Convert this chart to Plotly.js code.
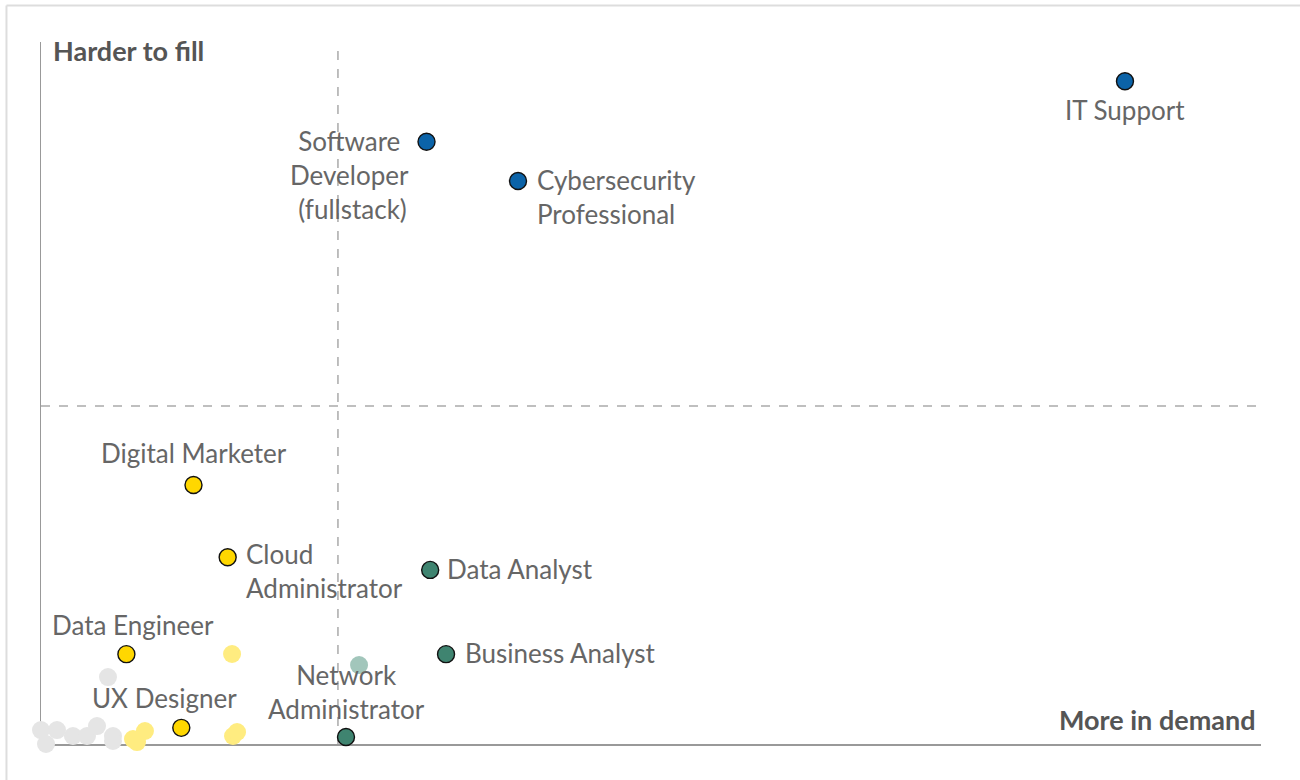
<!DOCTYPE html>
<html>
<head>
<meta charset="utf-8">
<script src="https://cdn.plot.ly/plotly-3.0.1.min.js"></script>
<style>
  body { margin: 0; background: #fff; }
  #plotArea { width: 1300px; height: 780px; }
</style>
</head>
<body>
<div id="plotArea"></div>
<script>
// demand (x) vs difficulty to fill (y), arbitrary 0-100 scale
var blueRoles = ["IT Support", "Software Developer", "Cybersecurity Professional"];
var blueX = [88.85, 31.6, 39.1];
var blueY = [94.4, 85.8, 80.2];

var yellowRoles = ["Digital Marketer", "Cloud Administrator", "Data Engineer", "UX Designer"];
var yellowX = [12.5, 15.3, 7.0, 11.5];
var yellowY = [36.9, 26.6, 12.8, 2.3];

var greenRoles = ["Data Analyst", "Business Analyst", "Network Administrator"];
var greenX = [31.9, 33.2, 25.0];
var greenY = [24.8, 12.8, 1.0];

// unlabeled roles
var greyX = [0, 1.31, 0.41, 2.62, 2.62, 3.69, 3.77, 4.59, 5.9, 5.9, 5.49];
var greyY = [1.99, 1.99, 0, 1.14, -0.14, -0.71, 1.14, 2.56, 1.14, 0.43, 9.54];

var paleYellowX = [7.54, 8.52, 7.87, 11.64, 15.74, 16.07, 15.66];
var paleYellowY = [0.71, 1.85, 0.28, -0.14, 1.14, 1.71, 12.82];

var paleGreenX = [26.07];
var paleGreenY = [11.25];

var midX = 24.34;
var midY = 48.15;

function faint(x, y, color) {
	return {
		x: x, y: y, type: "scatter", mode: "markers", hoverinfo: "skip",
		cliponaxis: false,
		marker: { size: 18, color: color, line: { width: 0 } }
	};
}

function bold(x, y, names, color) {
	return {
		x: x, y: y, text: names, type: "scatter", mode: "markers",
		cliponaxis: false,
		marker: { size: 17, color: color, line: { width: 1.4, color: "#111" } }
	};
}

var data = [
	faint(greyX, greyY, "#e5e5e5"),
	faint(paleYellowX, paleYellowY, "#ffec80"),
	faint(paleGreenX, paleGreenY, "#a2c6bb"),
	bold(blueX, blueY, blueRoles, "#0b63a8"),
	bold(yellowX, yellowY, yellowRoles, "#ffd700"),
	bold(greenX, greenY, greenRoles, "#3f8470")
];

var labelFont = { family: "Lato, 'Open Sans', sans-serif", size: 26, color: "#666" };

function label(x, y, text, xanchor, align, xshift, yshift) {
	return {
		x: x, y: y, xref: "x", yref: "y", text: text, showarrow: false,
		xanchor: xanchor, yanchor: "middle", align: align,
		xshift: xshift, yshift: yshift, font: labelFont
	};
}

var annotations = [
	label(blueX[0], blueY[0], "IT Support", "center", "center", 0, -29),
	label(blueX[1], blueY[1], "Software<br>Developer<br> (fullstack)", "right", "center", -16, -33),
	label(blueX[2], blueY[2], "Cybersecurity<br>Professional", "left", "left", 17, -16),
	label(yellowX[0], yellowY[0], "Digital Marketer", "center", "center", 0, 32),
	label(yellowX[1], yellowY[1], "Cloud<br>Administrator", "left", "left", 16, -14),
	label(yellowX[2], yellowY[2], "Data Engineer", "center", "center", 7, 29),
	label(yellowX[3], yellowY[3], "UX Designer", "center", "center", -17, 30),
	label(greenX[0], greenY[0], "Data Analyst", "left", "left", 15, 1),
	label(greenX[1], greenY[1], "Business Analyst", "left", "left", 17, 1),
	label(greenX[2], greenY[2], "Network<br>Administrator", "center", "center", 0, 45),
	{
		x: 0.0107, y: 0.9886, xref: "paper", yref: "paper", text: "<b>Harder to fill</b>",
		showarrow: false, xanchor: "left", yanchor: "middle", xshift: -3,
		font: { family: "Lato, sans-serif", size: 27, color: "#555" }
	},
	{
		x: 0.9975, y: 0.0342, xref: "paper", yref: "paper", text: "<b>More in demand</b>",
		showarrow: false, xanchor: "right", yanchor: "middle",
		font: { family: "Lato, sans-serif", size: 27, color: "#555" }
	}
];

var shapes = [
	{ type: "line", xref: "x", yref: "y", x0: midX, x1: midX, y0: 0, y1: 100, layer: "below",
		line: { color: "#aaa", width: 1.5, dash: "dash" } },
	{ type: "line", xref: "x", yref: "y", x0: 0, x1: 100, y0: midY, y1: midY, layer: "below",
		line: { color: "#aaa", width: 1.5, dash: "dash" } },
	// outer frame, top and left edges
	{ type: "line", xref: "paper", yref: "paper", x0: -0.0283, x1: 1.04, y0: 1.052, y1: 1.052,
		line: { color: "#ddd", width: 2 } },
	{ type: "line", xref: "paper", yref: "paper", x0: -0.0283, x1: -0.0283, y0: -0.06, y1: 1.052,
		line: { color: "#ddd", width: 2 } }
];

var layout = {
	width: 1300,
	height: 780,
	margin: { l: 41, r: 39, t: 42, b: 36 },
	paper_bgcolor: "#fff",
	plot_bgcolor: "#fff",
	showlegend: false,
	xaxis: {
		range: [0, 100], showline: true, linecolor: "#999", linewidth: 1.5, layer: "below traces",
		showgrid: false, zeroline: false, showticklabels: false, ticks: "", fixedrange: true
	},
	yaxis: {
		range: [0, 100], showline: true, linecolor: "#999", linewidth: 1.5, layer: "below traces",
		showgrid: false, zeroline: false, showticklabels: false, ticks: "", fixedrange: true
	},
	annotations: annotations,
	shapes: shapes
};

Plotly.newPlot("plotArea", data, layout, { displayModeBar: false, staticPlot: true });
</script>
</body>
</html>
